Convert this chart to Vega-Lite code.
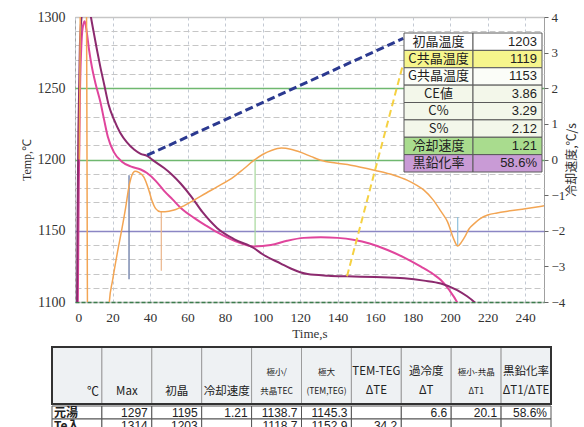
{
 "$schema": "https://vega.github.io/schema/vega-lite/v6.json",
 "padding": {"left": 19, "top": 9, "right": 0, "bottom": 0},
 "background": "white",
 "spacing": 5,
 "config": {
  "font": "Liberation Serif",
  "axis": {"labelFont": "Liberation Serif", "titleFont": "Liberation Serif", "labelColor": "#333", "titleColor": "#333", "titleFontWeight": "normal"}
 },
 "datasets": {
  "curves": [
   {"s":"元湯","t":1.2,"T":1080},{"s":"元湯","t":1.5,"T":1100},{"s":"元湯","t":2,"T":1180},{"s":"元湯","t":2.7,"T":1250},{"s":"元湯","t":3.5,"T":1283},{"s":"元湯","t":4.3,"T":1294},{"s":"元湯","t":5.2,"T":1297},{"s":"元湯","t":6.3,"T":1289},{"s":"元湯","t":7.5,"T":1277},{"s":"元湯","t":9,"T":1265},{"s":"元湯","t":11,"T":1253},{"s":"元湯","t":13.6,"T":1240},{"s":"元湯","t":15.5,"T":1228},{"s":"元湯","t":17.5,"T":1216},{"s":"元湯","t":20.8,"T":1205},{"s":"元湯","t":25,"T":1198.5},{"s":"元湯","t":30,"T":1195},{"s":"元湯","t":35,"T":1193},{"s":"元湯","t":38.4,"T":1190.5},{"s":"元湯","t":43,"T":1185},{"s":"元湯","t":47.5,"T":1178},{"s":"元湯","t":52,"T":1172},{"s":"元湯","t":56.4,"T":1166},{"s":"元湯","t":63.5,"T":1159},{"s":"元湯","t":70,"T":1153.5},{"s":"元湯","t":75.7,"T":1149},{"s":"元湯","t":85,"T":1143},{"s":"元湯","t":95.5,"T":1139},{"s":"元湯","t":104.4,"T":1140},{"s":"元湯","t":113,"T":1143},{"s":"元湯","t":122,"T":1145},{"s":"元湯","t":131,"T":1145.4},{"s":"元湯","t":140,"T":1145},{"s":"元湯","t":149,"T":1143.5},{"s":"元湯","t":157,"T":1141},{"s":"元湯","t":166.6,"T":1136.5},{"s":"元湯","t":175,"T":1131.5},{"s":"元湯","t":184.4,"T":1124.8},{"s":"元湯","t":191,"T":1119.5},{"s":"元湯","t":195,"T":1115.4},{"s":"元湯","t":199.5,"T":1108.4},{"s":"元湯","t":204,"T":1099},{"s":"元湯","t":206,"T":1093},
   {"s":"Te入","t":1,"T":1080},{"s":"Te入","t":1.3,"T":1150},{"s":"Te入","t":1.8,"T":1220},{"s":"Te入","t":2.6,"T":1280},{"s":"Te入","t":3.5,"T":1300},{"s":"Te入","t":5.5,"T":1314},{"s":"Te入","t":7.5,"T":1308},{"s":"Te入","t":8.5,"T":1300},{"s":"Te入","t":10,"T":1289},{"s":"Te入","t":11.7,"T":1277},{"s":"Te入","t":13.5,"T":1265},{"s":"Te入","t":15.5,"T":1253},{"s":"Te入","t":18,"T":1238},{"s":"Te入","t":20.8,"T":1228},{"s":"Te入","t":24,"T":1219},{"s":"Te入","t":27.7,"T":1212},{"s":"Te入","t":31.5,"T":1207},{"s":"Te入","t":35,"T":1204},{"s":"Te入","t":38.4,"T":1202.5},{"s":"Te入","t":42,"T":1199},{"s":"Te入","t":47.5,"T":1194},{"s":"Te入","t":52,"T":1189},{"s":"Te入","t":56.4,"T":1183},{"s":"Te入","t":62,"T":1174},{"s":"Te入","t":68,"T":1163},{"s":"Te入","t":75.7,"T":1152},{"s":"Te入","t":85,"T":1144},{"s":"Te入","t":95.5,"T":1137.7},{"s":"Te入","t":100,"T":1133.5},{"s":"Te入","t":109.7,"T":1127},{"s":"Te入","t":115,"T":1123.5},{"s":"Te入","t":124,"T":1119.6},{"s":"Te入","t":135,"T":1118.5},{"s":"Te入","t":145,"T":1118},{"s":"Te入","t":160,"T":1117.5},{"s":"Te入","t":175.5,"T":1116.6},{"s":"Te入","t":186,"T":1115},{"s":"Te入","t":195,"T":1113},{"s":"Te入","t":203.7,"T":1108.4},{"s":"Te入","t":209,"T":1104},{"s":"Te入","t":213.7,"T":1099},{"s":"Te入","t":216,"T":1096}
  ],
  "rate": [
   {"t":2.3,"r":0},{"t":2.7,"r":3},{"t":3.0,"r":6},{"t":6.0,"r":6},{"t":6.4,"r":0},{"t":6.8,"r":-6},{"t":17,"r":-6},{"t":18.3,"r":-4.0},{"t":20,"r":-3.4},{"t":22.5,"r":-2.64},{"t":25,"r":-1.95},{"t":27,"r":-1.35},{"t":28.8,"r":-0.75},{"t":30.5,"r":-0.42},{"t":32,"r":-0.33},{"t":34,"r":-0.36},{"t":36.8,"r":-0.5},{"t":39,"r":-0.8},{"t":41,"r":-1.15},{"t":43,"r":-1.38},{"t":45.6,"r":-1.47},{"t":48,"r":-1.47},{"t":52.8,"r":-1.42},{"t":58,"r":-1.3},{"t":63.5,"r":-1.14},{"t":70,"r":-0.94},{"t":75.7,"r":-0.77},{"t":84.8,"r":-0.48},{"t":90,"r":-0.26},{"t":95.5,"r":-0.02},{"t":100,"r":0.14},{"t":105,"r":0.26},{"t":110,"r":0.32},{"t":115,"r":0.29},{"t":120.5,"r":0.2},{"t":126,"r":0.08},{"t":131,"r":-0.02},{"t":139,"r":-0.1},{"t":147,"r":-0.16},{"t":159.5,"r":-0.3},{"t":170,"r":-0.44},{"t":177,"r":-0.58},{"t":182,"r":-0.72},{"t":186,"r":-0.86},{"t":191,"r":-1.14},{"t":195,"r":-1.45},{"t":198.6,"r":-1.75},{"t":202,"r":-2.25},{"t":204,"r":-2.43},{"t":206,"r":-2.32},{"t":208,"r":-2.15},{"t":210,"r":-1.95},{"t":212.8,"r":-1.8},{"t":216,"r":-1.66},{"t":220,"r":-1.56},{"t":225,"r":-1.5},{"t":230.6,"r":-1.45},{"t":240,"r":-1.38},{"t":250,"r":-1.3}
  ],
  "segs": [
   {"k":"m1","t":28.8,"T":1116,"T2":1189},
   {"k":"m2","t":46,"T":1122,"T2":1163.5},
   {"k":"m3","t":96,"T":1139,"T2":1200},
   {"k":"m4","t":204,"T":1139.3,"T2":1159.6}
  ],
  "guides": [
   {"k":"初晶","t":38.5,"T":1203},{"k":"初晶","t":175,"T":1285},
   {"k":"C共晶","t":145,"T":1118},{"k":"C共晶","t":174.5,"T":1265}
  ],
  "inset": [
   {"item":"初晶温度","value":"1203"},
   {"item":"C共晶温度","value":"1119"},
   {"item":"G共晶温度","value":"1153"},
   {"item":"CE値","value":"3.86"},
   {"item":"C%","value":"3.29"},
   {"item":"S%","value":"2.12"},
   {"item":"冷却速度","value":"1.21"},
   {"item":"黒鉛化率","value":"58.6%"}
  ],
  "head": [
   {"col":"℃","label":"℃"},
   {"col":"Max","label":"Max"},
   {"col":"初晶","label":"初晶"},
   {"col":"冷却速度","label":"冷却速度"},
   {"col":"極小","label":"極小/\n共晶TEC"},
   {"col":"極大","label":"極大\n(TEM,TEG)"},
   {"col":"TEM-TEG","label":"TEM-TEG\nΔTE"},
   {"col":"過冷度","label":"過冷度\nΔT"},
   {"col":"極小-共晶","label":"極小-共晶\nΔT1"},
   {"col":"黒鉛化率","label":"黒鉛化率\nΔT1/ΔTE"}
  ],
  "body": [
   {"row":"元湯","col":"℃","v":"元湯"},{"row":"元湯","col":"Max","v":"1297"},{"row":"元湯","col":"初晶","v":"1195"},{"row":"元湯","col":"冷却速度","v":"1.21"},{"row":"元湯","col":"極小","v":"1138.7"},{"row":"元湯","col":"極大","v":"1145.3"},{"row":"元湯","col":"TEM-TEG","v":""},{"row":"元湯","col":"過冷度","v":"6.6"},{"row":"元湯","col":"極小-共晶","v":"20.1"},{"row":"元湯","col":"黒鉛化率","v":"58.6%"},
   {"row":"Te入","col":"℃","v":"Te入"},{"row":"Te入","col":"Max","v":"1314"},{"row":"Te入","col":"初晶","v":"1203"},{"row":"Te入","col":"冷却速度","v":""},{"row":"Te入","col":"極小","v":"1118.7"},{"row":"Te入","col":"極大","v":"1152.9"},{"row":"Te入","col":"TEM-TEG","v":"34.2"},{"row":"Te入","col":"過冷度","v":""},{"row":"Te入","col":"極小-共晶","v":""},{"row":"Te入","col":"黒鉛化率","v":""}
  ]
 },
 "vconcat": [
  {
   "width": 469,
   "height": 285,
   "view": {"stroke": "#a0a0a0", "strokeWidth": 1},
   "layer": [
    {
     "layer": [
      {
       "encoding": {
        "x": {"field": "t", "type": "quantitative", "title": "Time,s",
         "scale": {"domain": [0, 250], "nice": false, "zero": false},
         "axis": {"values": [0,20,40,60,80,100,120,140,160,180,200,220,240], "labelOverlap": false, "grid": true, "gridDash": [3,3], "gridColor": "#c3c9d3", "ticks": false, "labelPadding": 8, "labelFontSize": 13.5, "titleFontSize": 13, "titlePadding": 4, "domainColor": "#3d7d4d", "domainDash": [4,2], "domainWidth": 1.5}},
        "y": {"field": "T", "type": "quantitative", "title": "Temp,℃",
         "scale": {"domain": [1100, 1300], "nice": false, "zero": false},
         "axis": {"values": [1100,1110,1120,1130,1140,1150,1160,1170,1180,1190,1200,1210,1220,1230,1240,1250,1260,1270,1280,1290,1300],
          "format": "d",
          "labelOverlap": false,
          "labelExpr": "datum.value % 50 === 0 ? datum.label : ''",
          "grid": true,
          "gridColor": {"condition": [{"test": "datum.value === 1150", "value": "#8b86c4"}, {"test": "datum.value === 1200 || datum.value === 1250", "value": "#6fb86f"}], "value": "#c6c6c6"},
          "gridDash": {"condition": {"test": "datum.value % 50 === 0", "value": []}, "value": [6,3]},
          "gridWidth": {"condition": {"test": "datum.value % 50 === 0", "value": 1.3}, "value": 1},
          "ticks": false, "labelPadding": 10, "labelFontSize": 14, "titleFontSize": 12, "titlePadding": 4, "domain": false}}
       },
       "layer": [
        {"data": {"name": "segs"}, "mark": {"type": "rule", "strokeWidth": 1.2},
         "encoding": {"y2": {"field": "T2"}, "color": {"field": "k", "type": "nominal", "scale": {"domain": ["m1","m2","m3","m4"], "range": ["#5b6e9e","#eab58a","#a6d89a","#8ec0dc"]}, "legend": null}}},
        {"data": {"name": "curves"}, "transform": [{"filter": "datum.s === '元湯'"}],
         "mark": {"type": "line", "color": "#e0459c", "strokeWidth": 2, "clip": true, "interpolate": "monotone"}},
        {"data": {"name": "curves"}, "transform": [{"filter": "datum.s === 'Te入'"}],
         "mark": {"type": "line", "color": "#8c2a6e", "strokeWidth": 2, "clip": true, "interpolate": "monotone"}},
        {"data": {"name": "guides"}, "transform": [{"filter": "datum.k === '初晶'"}],
         "mark": {"type": "line", "color": "#2b3990", "strokeWidth": 3, "strokeDash": [8,4]}},
        {"data": {"name": "guides"}, "transform": [{"filter": "datum.k === 'C共晶'"}],
         "mark": {"type": "line", "color": "#f5d142", "strokeWidth": 2, "strokeDash": [7,4]}}
       ],
       "resolve": {"scale": {"color": "independent"}}
      },
      {
       "data": {"name": "rate"},
       "mark": {"type": "line", "color": "#f3a553", "strokeWidth": 1.5, "clip": true, "interpolate": "monotone"},
       "encoding": {
        "x": {"field": "t", "type": "quantitative", "title": "Time,s", "scale": {"domain": [0, 250], "nice": false, "zero": false},
         "axis": {"values": [0,20,40,60,80,100,120,140,160,180,200,220,240], "labelOverlap": false, "grid": true, "gridDash": [3,3], "gridColor": "#c3c9d3", "ticks": false, "labelPadding": 8, "labelFontSize": 13.5, "titleFontSize": 13, "titlePadding": 4, "domainColor": "#3d7d4d", "domainDash": [4,2], "domainWidth": 1.5}},
        "y": {"field": "r", "type": "quantitative", "title": "冷却速度,℃/s",
         "scale": {"domain": [-4, 4], "nice": false, "zero": false},
         "axis": {"orient": "right", "values": [-4,-3,-2,-1,0,1,2,3,4], "grid": false, "ticks": true, "tickSize": 4, "tickColor": "#666", "labelPadding": 3, "labelFontSize": 13, "titleFont": "Noto Sans CJK JP", "titleFontSize": 12, "titleAngle": 270, "titlePadding": 14, "domain": false}}
       }
      }
     ],
     "resolve": {"scale": {"y": "independent", "color": "independent"}}
    },
    {
     "data": {"name": "inset"},
     "transform": [{"fold": ["item", "value"], "as": ["col", "txt"]}],
     "encoding": {
      "x": {"field": "col", "type": "nominal", "scale": {"domain": ["item", "value"], "range": [329, 467], "paddingInner": 0, "paddingOuter": 0}, "axis": null},
      "y": {"field": "item", "type": "nominal", "scale": {"domain": ["初晶温度","C共晶温度","G共晶温度","CE値","C%","S%","冷却速度","黒鉛化率"], "range": [16, 155], "paddingInner": 0, "paddingOuter": 0}, "axis": null}
     },
     "layer": [
      {"mark": {"type": "rect", "stroke": "#5a5a5a", "strokeWidth": 1},
       "encoding": {"color": {"field": "item", "type": "nominal", "scale": {"domain": ["初晶温度","C共晶温度","G共晶温度","CE値","C%","S%","冷却速度","黒鉛化率"], "range": ["#ffffff","#f6f58c","#fbfdf8","#f3f7ea","#f3f7ea","#f3f7ea","#a9dc8e","#c99bd6"]}, "legend": null}}},
      {"transform": [{"filter": "datum.col === 'item'"}],
       "mark": {"type": "text", "font": "Noto Sans CJK JP", "fontSize": 13, "color": "#222"},
       "encoding": {"text": {"field": "txt"}}},
      {"transform": [{"filter": "datum.col === 'value'"}],
       "mark": {"type": "text", "font": "Liberation Sans", "fontSize": 13, "align": "right", "dx": -5, "color": "#222"},
       "encoding": {"x": {"field": "col", "type": "nominal", "bandPosition": 1, "scale": {"domain": ["item", "value"], "range": [329, 467], "paddingInner": 0, "paddingOuter": 0}, "axis": null}, "text": {"field": "txt"}}}
     ],
     "resolve": {"scale": {"color": "independent"}}
    }
   ],
   "resolve": {"scale": {"x": "independent", "y": "independent", "color": "independent"}}
  },
  {
   "spacing": 0,
   "vconcat": [
    {
     "width": 469,
     "height": 57,
     "view": {"stroke": null},
     "data": {"name": "head"},
     "encoding": {"x": {"field": "col", "type": "nominal", "scale": {"domain": ["℃","Max","初晶","冷却速度","極小","極大","TEM-TEG","過冷度","極小-共晶","黒鉛化率"], "range": [-23, 476], "paddingInner": 0, "paddingOuter": 0}, "axis": null}},
     "layer": [
      {"mark": {"type": "rect", "fill": "#eef1f3", "stroke": "#9c9c9c", "strokeWidth": 1}},
      {"transform": [{"filter": {"field": "col", "oneOf": ["Max","初晶","冷却速度"]}}],
       "mark": {"type": "text", "font": "Noto Sans CJK JP", "fontSize": 11.5, "baseline": "middle", "dy": 16, "color": "#222"},
       "encoding": {"text": {"field": "label"}}},
      {"transform": [{"filter": {"field": "col", "oneOf": ["TEM-TEG","過冷度","黒鉛化率"]}}],
       "mark": {"type": "text", "font": "Noto Sans CJK JP", "fontSize": 11.5, "lineBreak": "\n", "lineHeight": 19, "baseline": "top", "dy": -10, "color": "#222"},
       "encoding": {"text": {"field": "label"}}},
      {"transform": [{"filter": {"field": "col", "oneOf": ["極小","極大","極小-共晶"]}}],
       "mark": {"type": "text", "font": "Noto Sans CJK JP", "fontSize": 8.5, "lineBreak": "\n", "lineHeight": 19, "baseline": "top", "dy": -8, "color": "#222"},
       "encoding": {"text": {"field": "label"}}},
      {"transform": [{"filter": "datum.col === '℃'"}],
       "mark": {"type": "text", "font": "Noto Sans CJK JP", "fontSize": 12, "align": "right", "baseline": "middle", "dx": -3, "dy": 16, "color": "#222"},
       "encoding": {"x": {"field": "col", "type": "nominal", "bandPosition": 1, "scale": {"domain": ["℃","Max","初晶","冷却速度","極小","極大","TEM-TEG","過冷度","極小-共晶","黒鉛化率"], "range": [-23, 476], "paddingInner": 0, "paddingOuter": 0}, "axis": null}, "text": {"field": "label"}}},
      {"mark": {"type": "rect", "fill": null, "stroke": "#333", "strokeWidth": 1.5},
       "encoding": {"x": {"datum": "℃", "bandPosition": 0, "scale": {"domain": ["℃","Max","初晶","冷却速度","極小","極大","TEM-TEG","過冷度","極小-共晶","黒鉛化率"], "range": [-23, 476], "paddingInner": 0, "paddingOuter": 0}, "axis": null}, "x2": {"datum": "黒鉛化率", "bandPosition": 1}}}
     ]
    },
    {
     "width": 469,
     "height": 26,
     "view": {"stroke": null},
     "data": {"name": "body"},
     "encoding": {
      "x": {"field": "col", "type": "nominal", "scale": {"domain": ["℃","Max","初晶","冷却速度","極小","極大","TEM-TEG","過冷度","極小-共晶","黒鉛化率"], "range": [-23, 476], "paddingInner": 0, "paddingOuter": 0}, "axis": null},
      "y": {"field": "row", "type": "nominal", "scale": {"domain": ["元湯","Te入"], "paddingInner": 0, "paddingOuter": 0}, "axis": null}
     },
     "layer": [
      {"mark": {"type": "rect", "fill": "white", "stroke": "#555", "strokeWidth": 1}},
      {"transform": [{"filter": "datum.col !== '℃'"}],
       "mark": {"type": "text", "font": "Liberation Sans", "fontSize": 12, "align": "right", "dx": -4, "color": "#222"},
       "encoding": {"x": {"field": "col", "type": "nominal", "bandPosition": 1, "scale": {"domain": ["℃","Max","初晶","冷却速度","極小","極大","TEM-TEG","過冷度","極小-共晶","黒鉛化率"], "range": [-23, 476], "paddingInner": 0, "paddingOuter": 0}, "axis": null}, "text": {"field": "v"}}},
      {"transform": [{"filter": "datum.col === '℃'"}],
       "mark": {"type": "text", "font": "Noto Sans CJK JP", "fontSize": 12, "fontWeight": "bold", "align": "left", "dx": 2, "color": "#222"},
       "encoding": {"x": {"field": "col", "type": "nominal", "bandPosition": 0, "scale": {"domain": ["℃","Max","初晶","冷却速度","極小","極大","TEM-TEG","過冷度","極小-共晶","黒鉛化率"], "range": [-23, 476], "paddingInner": 0, "paddingOuter": 0}, "axis": null}, "text": {"field": "v"}}}
     ]
    }
   ]
  }
 ]
}
